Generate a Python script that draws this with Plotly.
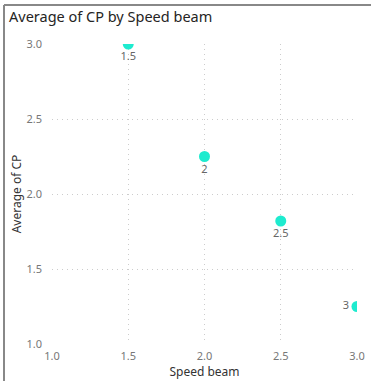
import plotly.graph_objects as go

# Speed beam vs. average CP
speed_beam = [1.5, 2.0, 2.5, 3.0]
avg_cp = [3.0, 2.25, 1.82, 1.25]
point_labels = ["1.5", "2", "2.5", "3"]
label_positions = ["bottom center", "bottom center", "bottom center", "middle left"]

axis_ticks = [1.0, 1.5, 2.0, 2.5, 3.0]
axis_tick_text = ["1.0", "1.5", "2.0", "2.5", "3.0"]

FONT = "Noto Sans"

fig = go.Figure(
    go.Scatter(
        x=speed_beam,
        y=avg_cp,
        mode="markers+text",
        text=point_labels,
        textposition=label_positions,
        textfont=dict(family=FONT, size=11, color="#666666"),
        marker=dict(size=11, color="#1EEBCF", line=dict(width=0)),
        cliponaxis=True,
        hoverinfo="x+y",
    )
)

# Plot-area geometry in pixels (371 x 381 canvas)
W, H = 371, 381
ml, mr, mt, mb = 52, 14, 44, 37
pw, ph = W - ml - mr, H - mt - mb


def px_x(p):
    return (p - ml) / pw


def px_y(p):
    return (H - mb - p) / ph


grid = dict(showgrid=True, gridcolor="#cccccc", griddash="1px,4px", gridwidth=1,
            zeroline=False, showline=False, ticks="", automargin=False)

fig.update_xaxes(
    range=[1.0, 3.0], tickvals=axis_ticks, ticktext=axis_tick_text,
    tickfont=dict(family=FONT, size=11, color="#777777"),
    title=dict(text="Speed beam", font=dict(family=FONT, size=12, color="#333333"),
               standoff=4),
    ticklabelstandoff=4,
    **grid,
)
fig.update_yaxes(
    range=[1.0, 3.0], tickvals=axis_ticks, ticktext=axis_tick_text,
    tickfont=dict(family=FONT, size=11, color="#777777"),
    title=dict(text="Average of CP", font=dict(family=FONT, size=12, color="#333333"),
               standoff=2),
    ticklabelstandoff=9,
    **grid,
)

# Visual frame: top and left borders
frame = dict(type="line", xref="paper", yref="paper",
             line=dict(color="#888888", width=2))
fig.add_shape(x0=px_x(4), x1=px_x(W + 5), y0=px_y(5), y1=px_y(5), **frame)
fig.add_shape(x0=px_x(4), x1=px_x(4), y0=px_y(5), y1=px_y(H + 5), **frame)

fig.update_layout(
    width=W, height=H,
    margin=dict(l=ml, r=mr, t=mt, b=mb),
    paper_bgcolor="white", plot_bgcolor="white",
    showlegend=False,
    title=dict(text="Average of CP by Speed beam",
               xref="container", yref="container",
               x=9 / W, xanchor="left",
               y=1 - 17 / H, yanchor="middle",
               font=dict(family=FONT, size=14.5, color="#252423")),
)

fig.write_html("out.html")
